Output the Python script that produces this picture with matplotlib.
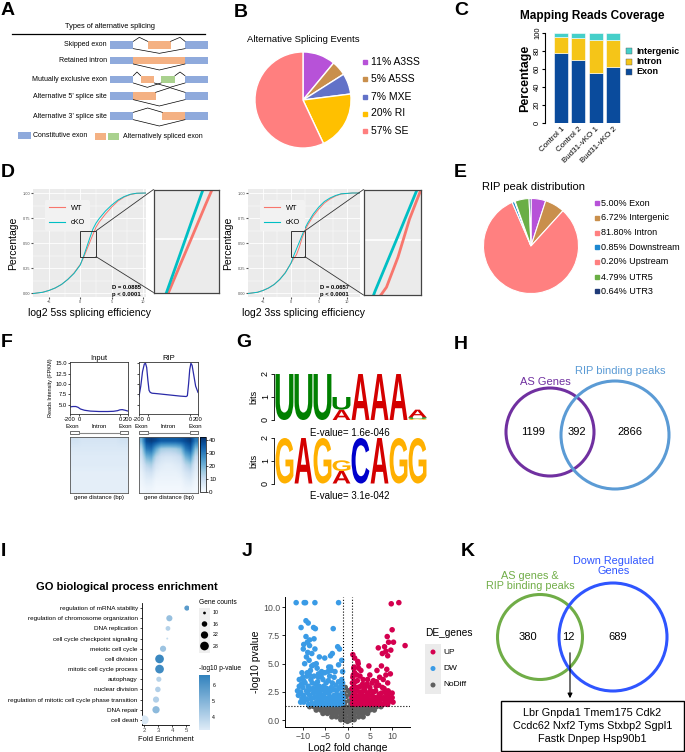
import numpy as np
import matplotlib
matplotlib.use('Agg')
import matplotlib.pyplot as plt
from matplotlib.patches import Rectangle, Circle, PathPatch, ConnectionPatch
from matplotlib.textpath import TextPath
from matplotlib.font_manager import FontProperties
from matplotlib.transforms import Affine2D
from matplotlib.colors import LinearSegmentedColormap
import matplotlib.cm as cm

plt.rcParams['font.family'] = ['Liberation Sans', 'DejaVu Sans']

# ---------------- data ----------------
as_types = ["Skipped exon", "Retained intron", "Mutually exclusive exon",
            "Alternative 5\u2019 splice site", "Alternative 3\u2019 splice site"]

ase_labels = ["A3SS", "A5SS", "MXE", "RI", "SE"]
ase_pct = [11, 5, 7, 20, 57]
ase_colors = ["#B752D8", "#C98F4C", "#6272C8", "#FFC000", "#FF7F7F"]

cov_samples = ["Control 1", "Control 2", "Bud31-vKO 1", "Bud31-vKO 2"]
cov_exon = [78, 70, 56, 62]
cov_intron = [18, 25, 36, 30]
cov_intergenic = [4, 5, 8, 8]

ecdf5_x = [-7.5, -6, -5, -4, -3, -2, -1, 0, 0.5, 1, 1.5, 2, 2.5, 3, 4, 5, 6, 7, 8, 9, 10.5]
ecdf5_wt = [0.0, 0.012, 0.03, 0.055, 0.09, 0.14, 0.205, 0.29, 0.355, 0.432, 0.508, 0.585, 0.66, 0.71, 0.79, 0.86, 0.92, 0.96, 0.985, 0.997, 1.0]
ecdf5_cko = [0.0, 0.012, 0.03, 0.055, 0.09, 0.14, 0.2, 0.285, 0.367, 0.458, 0.55, 0.64, 0.70, 0.745, 0.82, 0.88, 0.93, 0.965, 0.988, 0.998, 1.0]
ecdf3_x = [-7.7, -6, -5, -4, -3, -2, -1, 0, 0.5, 1, 1.5, 2, 2.5, 3, 4, 5, 6, 7, 8, 9, 11, 12.4]
ecdf3_wt = [0.0, 0.012, 0.03, 0.055, 0.09, 0.14, 0.21, 0.30, 0.347, 0.386, 0.459, 0.551, 0.623, 0.68, 0.77, 0.84, 0.90, 0.94, 0.97, 0.99, 1.0, 1.0]
ecdf3_cko = [0.0, 0.012, 0.03, 0.055, 0.09, 0.14, 0.205, 0.30, 0.376, 0.443, 0.51, 0.578, 0.646, 0.70, 0.79, 0.86, 0.915, 0.95, 0.975, 0.992, 1.0, 1.0]
ks_text = ["D = 0.0885\np < 0.0001", "D = 0.0657\np < 0.0001"]

rip_labels = ["Exon", "Intergenic", "Intron", "Downstream", "Upstream", "UTR5", "UTR3"]
rip_pct = [5.00, 6.72, 81.80, 0.85, 0.20, 4.79, 0.64]
rip_colors = ["#B752D8", "#C98F4C", "#FF8080", "#1E88D0", "#FF8080", "#6AAE45", "#1F3A78"]

prof_pos_input = [0, 5, 10, 14, 18, 25, 35, 50, 65, 75, 82, 86, 90, 95, 100]
prof_input = [4.5, 4.6, 4.6, 4.4, 4.0, 3.7, 3.5, 3.4, 3.4, 3.45, 3.6, 3.8, 3.85, 3.7, 3.5]
prof_pos_rip = [0, 3, 6, 9, 11, 13, 15, 17, 19, 22, 30, 50, 70, 80, 82, 84, 86, 88, 90, 93, 96, 100]
prof_rip = [7.0, 9.5, 13.0, 14.8, 15.0, 14.0, 11.0, 8.5, 8.0, 7.8, 7.7, 7.4, 7.1, 7.0, 7.2, 10.0, 13.5, 15.0, 14.5, 12.0, 9.5, 8.0]
prof_ticks = [0, 15.6, 86.7, 100]
prof_ticklabels = ["-200", "0", "0", "200"]
heat_input = [
    [8, 8, 7, 7, 7, 7, 7, 7, 7, 7, 8, 8],
    [6, 6, 6, 6, 6, 6, 6, 6, 6, 6, 6, 6],
    [5, 5, 5, 5, 5, 5, 5, 5, 5, 5, 5, 5],
    [5, 5, 5, 5, 5, 5, 5, 5, 5, 5, 5, 5],
    [4, 4, 4, 4, 4, 4, 4, 4, 4, 4, 4, 4],
    [4, 4, 4, 4, 4, 4, 4, 4, 4, 4, 4, 4],
    [4, 4, 4, 4, 4, 4, 4, 4, 4, 4, 4, 4],
]
heat_rip = [
    [20, 38, 40, 38, 35, 35, 35, 35, 36, 38, 40, 30],
    [12, 30, 32, 22, 15, 14, 14, 15, 18, 30, 34, 18],
    [8, 20, 22, 12, 8, 7, 7, 8, 10, 20, 24, 10],
    [5, 12, 14, 7, 5, 4, 4, 5, 6, 12, 15, 6],
    [3, 7, 8, 4, 3, 3, 3, 3, 4, 7, 9, 4],
    [2, 4, 4, 2, 2, 2, 2, 2, 2, 4, 5, 2],
    [1, 2, 2, 1, 1, 1, 1, 1, 1, 2, 2, 1],
]

motif1 = [[("U", 2.0)], [("U", 2.0)], [("U", 2.0)], [("A", 0.45), ("U", 0.55)],
          [("A", 2.0)], [("A", 2.0)], [("A", 2.0)], [("G", 0.05), ("U", 0.07), ("A", 0.33)]]
motif2 = [[("G", 2.0)], [("A", 2.0)], [("G", 2.0)], [("A", 0.55), ("G", 0.47)],
          [("C", 2.0)], [("A", 2.0)], [("G", 2.0)], [("G", 2.0)]]
motif_evalues = ["E-value= 1.6e-046", "E-value= 3.1e-042"]
base_colors = {"A": "#D40000", "U": "#008000", "C": "#0000CC", "G": "#FFB000"}

venn_h_counts = [1199, 392, 2866]
venn_h_labels = ["AS Genes", "RIP binding peaks"]

go_terms = ["regulation of mRNA stability", "regulation of chromosome organization",
            "DNA replication", "cell cycle checkpoint signaling", "meiotic cell cycle",
            "cell division", "mitotic cell cycle process", "autophagy", "nuclear division",
            "regulation of mitotic cell cycle phase transition", "DNA repair", "cell death"]
go_fold = [5.05, 3.8, 3.7, 3.65, 3.35, 3.1, 3.1, 3.05, 2.98, 2.85, 2.85, 2.0]
go_counts = [15, 18, 14, 9, 18, 28, 28, 15, 16, 18, 22, 30]
go_logp = [5.8, 4.6, 4.0, 3.7, 4.5, 6.4, 6.3, 4.0, 4.1, 4.1, 4.8, 3.3]
go_count_breaks = [10, 16, 22, 28]

vol_up = [(9.8, 10.3), (11.5, 10.4), (10.0, 8.0), (8.9, 7.4), (9.2, 6.9), (10.3, 6.9), (12.9, 6.6),
          (6.9, 6.4), (8.3, 6.5), (8.6, 6.1), (9.7, 6.2), (7.8, 5.9), (9.0, 5.7), (1.2, 5.8),
          (1.6, 5.5), (2.3, 5.2), (4.8, 4.8), (1.5, 4.7), (2.5, 4.6), (7.6, 4.8), (8.8, 4.5),
          (9.6, 4.1), (6.6, 4.4), (5.0, 4.0),
          (1.1, 1.5), (1.3, 2.2), (1.5, 3.0), (1.8, 1.7), (2.0, 2.6), (2.2, 3.5), (2.4, 1.5),
          (2.6, 2.1), (2.9, 3.0), (3.1, 1.7), (3.3, 2.5), (3.6, 1.5), (3.8, 2.1), (4.0, 3.0),
          (4.3, 1.6), (4.5, 2.4), (4.8, 1.8), (5.0, 2.9), (5.3, 1.5), (5.5, 2.2), (5.8, 3.5),
          (6.0, 1.7), (6.3, 2.6), (6.5, 1.5), (6.8, 2.0), (7.0, 3.1), (7.3, 1.6), (7.6, 2.4),
          (7.9, 1.9), (8.2, 2.8), (8.5, 1.6), (8.8, 2.3), (9.0, 3.3), (9.3, 2.0), (9.6, 1.7),
          (10.0, 2.4), (10.2, 1.6), (1.2, 3.8), (1.6, 4.2), (2.1, 4.0), (2.8, 3.9), (3.5, 3.6),
          (4.5, 3.6), (5.5, 3.3), (6.5, 3.4), (7.2, 3.8), (8.0, 3.6), (8.6, 4.0), (1.2, 1.4),
          (2.0, 1.4), (3.0, 1.4), (4.0, 1.4), (5.0, 1.4), (6.0, 1.4), (7.0, 1.4), (8.0, 1.4),
          (9.0, 1.4), (10.0, 2.0), (1.0, 2.8), (1.4, 4.6), (3.0, 4.4), (2.4, 5.0), (3.7, 2.8),
          (1.2, 1.9), (1.4, 2.6), (1.7, 3.4), (1.9, 2.2), (2.1, 1.8), (2.3, 2.9), (2.7, 1.7),
          (2.8, 2.5), (3.2, 2.1), (3.4, 3.2), (3.7, 1.8), (3.9, 2.6), (4.2, 2.0), (4.4, 3.2),
          (4.7, 2.2), (5.1, 1.8), (5.2, 2.6), (5.6, 1.8), (5.9, 2.5), (6.2, 2.0), (6.4, 3.0),
          (6.7, 1.8), (7.1, 2.3), (7.4, 2.0), (7.8, 2.9), (8.1, 2.0), (8.4, 2.5), (8.7, 1.9),
          (9.1, 2.6), (9.4, 2.4), (9.8, 1.9), (1.0, 2.0), (1.1, 3.3), (1.3, 4.0)]
vol_dw = [(-11.5, 10.4), (-9.7, 10.4), (-9.4, 10.4), (-7.3, 10.4), (-2.0, 10.4),
          (-9.3, 8.8), (-8.8, 8.6), (-10.4, 8.2), (-7.6, 8.2), (-7.2, 8.1), (-3.2, 8.1),
          (-9.3, 7.4), (-8.5, 7.1), (-7.5, 7.2), (-9.0, 6.9), (-9.8, 6.7), (-8.5, 6.6),
          (-9.9, 6.3), (-8.9, 6.0), (-8.0, 5.9), (-7.3, 6.3), (-2.2, 6.5), (-1.8, 6.3),
          (-9.2, 5.6), (-8.6, 5.3), (-6.3, 5.6), (-5.1, 5.5), (-3.8, 5.7), (-3.4, 5.9),
          (-4.2, 4.7), (-7.6, 4.9), (-8.0, 4.8), (-1.3, 5.3), (-2.0, 4.9), (-10.2, 4.2),
          (-9.0, 4.2), (-6.5, 4.1), (-5.1, 4.2), (-4.4, 4.3), (-3.6, 4.4), (-1.1, 4.3),
          (-10.5, 2.5), (-10.0, 2.9), (-9.5, 3.3), (-9.2, 2.6), (-8.8, 3.0), (-8.5, 2.2),
          (-8.2, 3.6), (-7.8, 2.8), (-7.5, 2.0), (-7.2, 3.2), (-6.9, 2.5), (-6.6, 1.9),
          (-6.3, 3.0), (-6.0, 2.3), (-5.7, 1.7), (-5.4, 2.7), (-5.1, 2.0), (-4.8, 3.3),
          (-4.5, 1.6), (-4.2, 2.4), (-3.9, 1.9), (-3.6, 2.9), (-3.3, 1.5), (-3.0, 2.2),
          (-2.7, 1.7), (-2.4, 2.6), (-2.1, 1.5), (-1.8, 2.0), (-1.5, 1.6), (-1.2, 2.4),
          (-1.1, 1.5), (-9.8, 1.6), (-9.0, 1.8), (-8.0, 1.5), (-7.0, 1.6), (-6.0, 1.5),
          (-5.0, 1.5), (-4.0, 1.5), (-2.5, 1.4), (-1.5, 3.0), (-1.3, 3.6), (-2.0, 3.4),
          (-3.0, 3.8), (-4.0, 3.9), (-5.5, 3.6), (-6.5, 3.8), (-7.5, 3.9), (-8.5, 4.0),
          (-9.8, 3.5), (-10.8, 3.0), (-11.0, 2.2), (-10.2, 1.9), (-8.7, 1.4), (-7.3, 1.4),
          (-6.3, 1.4), (-5.3, 1.4), (-4.6, 1.4), (-3.6, 1.4), (-2.9, 1.4), (-1.9, 1.4),
          (-1.2, 1.9), (-5.8, 4.3), (-3.8, 4.7), (-2.8, 4.3), (-6.8, 4.6), (-8.3, 4.4),
          (-10.0, 3.8), (-9.6, 5.0), (-7.0, 5.0),
          (-10.8, 3.6), (-10.3, 3.2), (-9.9, 2.2), (-9.4, 1.9), (-9.1, 3.9), (-8.9, 2.4),
          (-8.4, 2.7), (-8.1, 1.9), (-7.9, 3.3), (-7.6, 2.4), (-7.1, 2.8), (-6.8, 2.1),
          (-6.7, 3.4), (-6.2, 1.8), (-6.1, 2.7), (-5.9, 3.9), (-5.6, 2.1), (-5.3, 3.0),
          (-5.0, 2.4), (-4.7, 1.9), (-4.6, 2.8), (-4.3, 3.5), (-4.0, 2.1), (-3.8, 2.6),
          (-3.5, 1.8), (-3.4, 3.3), (-3.1, 2.7), (-2.9, 1.9), (-2.6, 3.1), (-2.3, 2.2),
          (-2.2, 1.8), (-1.9, 2.8), (-1.6, 2.2), (-1.4, 1.7), (-1.2, 2.9), (-1.1, 3.3),
          (-1.0, 2.0), (-10.5, 1.6), (-11.2, 2.6)]
vol_nd = [(-8.5, 1.2), (-7.5, 1.2), (-6.5, 1.2), (-5.5, 1.2), (-4.5, 1.2), (-3.5, 1.2), (-2.5, 1.2),
          (-1.5, 1.2), (-0.5, 1.2), (0.5, 1.2), (1.5, 1.2), (2.5, 1.2), (3.5, 1.2), (4.5, 1.2),
          (5.5, 1.2), (6.5, 1.2), (7.5, 1.2),
          (-7, 0.9), (-6, 0.9), (-5, 0.9), (-4, 0.9), (-3, 0.9), (-2, 0.9), (-1, 0.9), (0, 0.9),
          (1, 0.9), (2, 0.9), (3, 0.9), (4, 0.9), (5, 0.9), (6, 0.9),
          (-5.5, 0.6), (-4.5, 0.6), (-3.5, 0.6), (-2.5, 0.6), (-1.5, 0.6), (-0.5, 0.6), (0.5, 0.6),
          (1.5, 0.6), (2.5, 0.6), (3.5, 0.6), (4.5, 0.6),
          (-3.5, 0.3), (-2.5, 0.3), (-1.5, 0.3), (-0.5, 0.3), (0.5, 0.3), (1.5, 0.3), (2.5, 0.3), (3.5, 0.3),
          (-1.5, 0.05), (-0.5, 0.0), (0.5, 0.0), (1.5, 0.05), (0, -0.1),
          (-0.6, 1.6), (0.4, 1.7), (-0.3, 2.1), (0.6, 2.3), (-0.5, 2.9), (0.2, 2.6), (-0.8, 2.4), (0.8, 1.5)]
vol_groups = ["UP", "DW", "NoDiff"]
vol_colors = ["#D4004F", "#3A9BE6", "#5F5F5F"]

venn_k_counts = [380, 12, 689]
venn_k_labels = ["AS genes &\nRIP binding peaks", "Down Regulated\nGenes"]
k_genes = ["Lbr Gnpda1 Tmem175 Cdk2", "Ccdc62 Nxf2 Tyms Stxbp2 Sgpl1", "Fastk Dnpep Hsp90b1"]

# ---------------- figure ----------------
W, H = 685, 752
fig = plt.figure(figsize=(W / 100, H / 100), dpi=100)


def pax(x0, y0, x1, y1, **kw):
    return fig.add_axes([x0 / W, 1 - y1 / H, (x1 - x0) / W, (y1 - y0) / H], **kw)


ov = fig.add_axes([0, 0, 1, 1], zorder=20)
ov.set_xlim(0, W)
ov.set_ylim(H, 0)
ov.axis('off')
ov.patch.set_visible(False)

# panel letters
for lab, x, y in [("A", 1, 2), ("B", 234, 4), ("C", 454, 2), ("D", 1, 164), ("E", 454, 164),
                  ("F", 1, 334), ("G", 236, 334), ("H", 454, 336), ("I", 1, 543), ("J", 242, 543),
                  ("K", 461, 543)]:
    ov.text(x, y, lab, fontsize=14, fontweight='bold', va='top', ha='left')

# ---------------- A ----------------
c_const, c_alt, c_alt2 = "#8FAADC", "#F4B183", "#A9D18E"
ov.text(110, 27, "Types of alternative splicing", fontsize=5.3, ha='center', va='center')
ov.plot([12, 205], [34.3, 34.3], color='black', lw=0.9)
row_y = [135, 181, 238, 288, 348]
alt_boxes = [[(443, 512, c_alt)], [(400, 555, c_alt)], [(422, 463, c_alt), (483, 525, c_alt2)],
             [(400, 467, c_alt)], [(487, 555, c_alt)]]
connectors = [
    [[(400, 124), (418, 112), (443, 124)], [(512, 124), (540, 112), (555, 124)], [(400, 146), (478, 160), (555, 146)]],
    [[(400, 192), (478, 210), (555, 192)]],
    [[(400, 227), (411, 216), (422, 227)], [(525, 227), (540, 216), (555, 227)],
     [(400, 249), (442, 262), (483, 249)], [(463, 249), (510, 262), (555, 249)]],
    [[(467, 277), (510, 263), (555, 277)], [(400, 299), (478, 318), (555, 299)]],
    [[(400, 337), (443, 324), (487, 337)], [(400, 359), (478, 378), (555, 359)]],
]
for i, name in enumerate(as_types):
    yc = row_y[i] / 3
    ov.text(107, yc, name, fontsize=5.0, ha='right', va='center')
    for (xa, xb) in [(330, 400), (555, 623)]:
        ov.add_patch(Rectangle((xa / 3, yc - 3.6), (xb - xa) / 3, 7.2, fc=c_const, ec='none'))
    for (xa, xb, col) in alt_boxes[i]:
        ov.add_patch(Rectangle((xa / 3, yc - 3.6), (xb - xa) / 3, 7.2, fc=col, ec='none'))
    for line in connectors[i]:
        ov.plot([p[0] / 3 for p in line], [p[1] / 3 for p in line], color='black', lw=0.5)
ov.add_patch(Rectangle((18.3, 131.5), 12.4, 7, fc=c_const, ec='none'))
ov.text(33.5, 135.5, "Constitutive exon", fontsize=5.0, va='center')
ov.add_patch(Rectangle((95, 133), 11, 7, fc=c_alt, ec='none'))
ov.add_patch(Rectangle((108.3, 133), 11, 7, fc=c_alt2, ec='none'))
ov.text(123.5, 137, "Alternatively spliced exon", fontsize=5.0, va='center')

# ---------------- B ----------------
axB = pax(303 - 49, 100 - 49, 303 + 49, 100 + 49)
axB.pie(ase_pct, colors=ase_colors, startangle=90, counterclock=False,
        wedgeprops=dict(edgecolor='white', linewidth=1.0))
axB.set_xlim(-1.02, 1.02)
axB.set_ylim(-1.02, 1.02)
ov.text(303, 40, "Alternative Splicing Events", fontsize=6.8, ha='center', va='center')
for i, (lab, p) in enumerate(zip(ase_labels, ase_pct)):
    y = [62, 79, 97, 113.5, 131][i]
    ov.plot(365.5, y, 's', color=ase_colors[i], ms=2.8)
    ov.text(371, y, f"{p}% {lab}", fontsize=7.5, va='center')

# ---------------- C ----------------
axC = pax(548, 33, 621, 123)
xs = np.arange(len(cov_samples))
bot = np.zeros(len(xs))
for vals, col, lab in [(cov_exon, "#0A4B9C", "Exon"), (cov_intron, "#F5C518", "Intron"),
                       (cov_intergenic, "#45CFC9", "Intergenic")]:
    axC.bar(xs, vals, bottom=bot, width=0.8, color=col, edgecolor='white', linewidth=0.4, label=lab)
    bot += np.array(vals)
axC.set_xlim(-0.75, 3.45)
axC.set_ylim(0, 100)
for s in ['top', 'right', 'bottom']:
    axC.spines[s].set_visible(False)
axC.spines['left'].set_bounds(0, 100)
axC.spines['left'].set_position(('outward', 2))
axC.set_yticks([0, 20, 40, 60, 80, 100])
axC.set_yticklabels(["0", "20", "40", "60", "80", "100"], rotation=90, va='center', fontsize=5.5)
axC.tick_params(axis='y', length=2, pad=1)
axC.set_xticks(xs)
axC.set_xticklabels(cov_samples, rotation=45, ha='right', rotation_mode='anchor', fontsize=5.8)
axC.tick_params(axis='x', length=0, pad=2)
axC.set_ylabel("Percentage", fontsize=9, fontweight='bold', labelpad=2)
ov.text(592, 16, "Mapping Reads Coverage", fontsize=8.5, fontweight='bold', ha='center', va='center')
for lab, col, y in [("Intergenic", "#45CFC9", 51), ("Intron", "#F5C518", 61.5), ("Exon", "#0A4B9C", 72)]:
    ov.plot(629, y, 's', color=col, ms=4, mec='#555555', mew=0.3)
    ov.text(636, y, lab, fontsize=6.5, fontweight='bold', va='center')

# ---------------- D ----------------
WT_C, KO_C = "#F8766D", "#00BFC4"


def gg(ax):
    ax.set_facecolor('#EBEBEB')
    for s in ax.spines.values():
        s.set_visible(False)
    ax.grid(True, which='major', color='white', lw=0.6)
    ax.grid(True, which='minor', color='white', lw=0.3)
    ax.set_axisbelow(True)


def ecdf_panel(box, inset_box, xv, wt, ko, xlim, xlabel, ks, ks_x):
    ax = pax(*box)
    gg(ax)
    ax.plot(xv, wt, color=WT_C, lw=0.7, label="WT")
    ax.plot(xv, ko, color=KO_C, lw=0.7, label="cKO")
    ax.set_xlim(*xlim)
    ax.set_ylim(-0.035, 1.04)
    ax.set_xticks([-5, 0, 5, 10])
    ax.set_xticks([-2.5, 2.5, 7.5], minor=True)
    ax.set_yticks([0, 0.25, 0.5, 0.75, 1.0])
    ax.set_yticklabels(["0.00", "0.25", "0.50", "0.75", "1.00"])
    ax.set_yticks([0.125, 0.375, 0.625, 0.875], minor=True)
    ax.tick_params(which='major', labelsize=2.8, length=1.2, color='#555555', labelcolor='#4D4D4D', pad=1)
    ax.tick_params(which='minor', length=0)
    ax.set_xlabel(xlabel, fontsize=7.5, labelpad=3)
    ax.set_ylabel("Percentage", fontsize=7.5, labelpad=3)
    leg = ax.legend(loc='upper left', bbox_to_anchor=(0.07, 0.93), fontsize=5.3, handlelength=2.2,
                    frameon=True, facecolor='#F2F2F2', edgecolor='none', framealpha=1,
                    borderpad=0.6, labelspacing=1.0)
    for l in leg.get_lines():
        l.set_linewidth(0.8)
    ax.text(ks_x, 0.08, ks, fontsize=4.2, fontweight='bold', va='top', ha='left',
            transform=ax.transData, linespacing=1.4)
    x0, x1, y0, y1 = 0.0, 2.5, 0.367, 0.623
    ax.add_patch(Rectangle((x0, y0), x1 - x0, y1 - y0, fill=False, ec='#333333', lw=0.7, zorder=5))
    ins = pax(*inset_box)
    ins.set_facecolor('#EBEBEB')
    ins.axhline(0.5, color='white', lw=1.2)
    ins.plot(xv, wt, color=WT_C, lw=2.0)
    ins.plot(xv, ko, color=KO_C, lw=2.0)
    ins.set_xlim(x0, x1)
    ins.set_ylim(y0, y1)
    ins.set_xticks([])
    ins.set_yticks([])
    for s in ins.spines.values():
        s.set_color('#444444')
        s.set_linewidth(0.9)
    for (xa, ya, xb, yb) in [(x1, y1, 0, 1), (x1, y0, 0, 0)]:
        cp = ConnectionPatch(xyA=(xa, ya), coordsA=ax.transData, xyB=(xb, yb), coordsB=ins.transAxes,
                             color='#333333', lw=0.6)
        fig.add_artist(cp)
    return ax


ecdf_panel((33, 189, 146, 297), (153.5, 189.5, 218.5, 292.5), ecdf5_x, ecdf5_wt, ecdf5_cko,
           (-7.55, 10.48), "log2 5ss splicing efficiency", ks_text[0], 5.0)
ecdf_panel((248, 189, 360, 297), (363.5, 189.5, 421, 295), ecdf3_x, ecdf3_wt, ecdf3_cko,
           (-7.7, 12.4), "log2 3ss splicing efficiency", ks_text[1], 5.3)

# ---------------- E ----------------
axE = pax(531 - 48, 246 - 48, 531 + 48, 246 + 48)
axE.pie(rip_pct, colors=rip_colors, startangle=90, counterclock=False,
        wedgeprops=dict(edgecolor='white', linewidth=0.8))
axE.set_xlim(-1.01, 1.01)
axE.set_ylim(-1.01, 1.01)
ov.text(534, 187.5, "RIP peak distribution", fontsize=8, ha='center', va='center')
for i, (lab, p) in enumerate(zip(rip_labels, rip_pct)):
    y = [203, 218, 232.5, 247, 262, 277, 291][i]
    ov.plot(597.5, y, 's', color=rip_colors[i], ms=2.8)
    ov.text(601, y, f"{p:.2f}% {lab}", fontsize=6.5, va='center')

# ---------------- F ----------------
for j, (name, pos, vals, heat, (xa, xb)) in enumerate([
        ("Input", prof_pos_input, prof_input, heat_input, (70, 128)),
        ("RIP", prof_pos_rip, prof_rip, heat_rip, (139, 198))]):
    a = pax(xa, 362, xb, 414)
    a.plot(pos, vals, color='#2A2AA8', lw=0.9)
    a.set_xlim(0, 100)
    a.set_ylim(2.8, 15.3)
    a.set_xticks(prof_ticks)
    a.set_xticklabels(prof_ticklabels)
    a.set_yticks([5, 7.5, 10, 12.5, 15])
    if j == 0:
        a.set_yticklabels(["5.0", "7.5", "10.0", "12.5", "15.0"])
        a.set_ylabel("Reads Intensity (FPKM)", fontsize=4, labelpad=2)
    else:
        a.set_yticklabels([])
        a.tick_params(axis='y', length=0)
    a.tick_params(labelsize=4.2, length=1.5, pad=0.8, width=0.5)
    for s in a.spines.values():
        s.set_linewidth(0.6)
        s.set_color('#333333')
    a.set_title(name, fontsize=5.5, pad=1.5)
    w = xb - xa
    ov.text(xa + 0.04 * w, 426, "Exon", fontsize=4.3, ha='center', va='center')
    ov.text(xa + 0.5 * w, 426, "Intron", fontsize=4.3, ha='center', va='center')
    ov.text(xb - 0.04 * w, 426, "Exon", fontsize=4.3, ha='center', va='center')
    ov.plot([xa + 0.16 * w, xb - 0.14 * w], [432.5, 432.5], color='#888888', lw=0.8)
    ov.add_patch(Rectangle((xa, 430.5), 0.16 * w, 3.5, fill=False, ec='#333333', lw=0.5))
    ov.add_patch(Rectangle((xb - 0.14 * w, 430.5), 0.14 * w, 3.5, fill=False, ec='#333333', lw=0.5))
    h = pax(xa, 437, xb, 493)
    h.imshow(np.array(heat), aspect='auto', cmap='Blues', vmin=0, vmax=42, interpolation='bilinear',
             extent=(0, 1, 0, 1))
    h.set_xticks([])
    h.set_yticks([])
    for s in h.spines.values():
        s.set_linewidth(0.6)
        s.set_color('#555555')
    ov.text((xa + xb) / 2, 497, "gene distance (bp)", fontsize=4.3, ha='center', va='center')
cb_ax = pax(200, 437, 205.5, 492)
cb = fig.colorbar(cm.ScalarMappable(cmap='Blues', norm=plt.Normalize(0, 42)), cax=cb_ax)
cb.set_ticks([0, 10, 20, 30, 40])
cb.ax.tick_params(labelsize=4.5, length=1.5, pad=1, width=0.5)
cb.outline.set_linewidth(0.5)

# ---------------- G ----------------
logo_fp = FontProperties(family='Liberation Sans', weight='bold')


def draw_letter(ax, letter, x, y, w, hgt, color):
    tp = TextPath((0, 0), letter, size=1, prop=logo_fp)
    bb = tp.get_extents()
    tr = Affine2D().translate(-bb.x0, -bb.y0).scale(w / bb.width, hgt / bb.height).translate(x, y)
    ax.add_patch(PathPatch(tr.transform_path(tp), fc=color, ec='none'))


for k, (motif, (ya, yb)) in enumerate([(motif1, (374, 420)), (motif2, (438, 483.5))]):
    a = pax(274, ya, 428, yb)
    for i, stack in enumerate(motif):
        base = 0.0
        for letter, hgt in stack:
            draw_letter(a, letter, i + 1 - 0.47, base, 0.94, hgt, base_colors[letter])
            base += hgt
    a.set_xlim(0.45, 8.55)
    a.set_ylim(0, 2)
    for s in ['top', 'right', 'bottom']:
        a.spines[s].set_visible(False)
    a.spines['left'].set_linewidth(0.6)
    a.set_xticks([])
    a.set_yticks([0, 1, 2])
    a.set_yticklabels(["0", "1", "2"], rotation=90, va='center')
    a.tick_params(axis='y', labelsize=6.5, length=2, pad=1, width=0.6)
    a.set_ylabel("bits", fontsize=6.5, labelpad=2)
ov.text(350, 433, motif_evalues[0], fontsize=7, ha='center', va='center')
ov.text(350, 496, motif_evalues[1], fontsize=7, ha='center', va='center')

# ---------------- H ----------------
ov.add_patch(Circle((550, 432), 44, fill=False, ec='#7030A0', lw=2.2))
ov.add_patch(Circle((615, 435), 54, fill=False, ec='#5B9BD5', lw=2.2))
ov.text(545, 382, venn_h_labels[0], color='#7030A0', fontsize=8, ha='center', va='center')
ov.text(620, 371, venn_h_labels[1], color='#5B9BD5', fontsize=8, ha='center', va='center')
for val, x in zip(venn_h_counts, [533, 577, 630]):
    ov.text(x, 432, str(val), fontsize=8, ha='center', va='center')

# ---------------- I ----------------
axI = pax(142, 603, 189, 725)
go_cmap = LinearSegmentedColormap.from_list('go', ['#DEEBF7', '#3182BD'])
go_norm = plt.Normalize(3.2, 6.6)
ypos = np.arange(len(go_terms))[::-1]


def count_size(c):
    return 4 + (np.array(c, dtype=float) - 10) * 1.95


axI.scatter(go_fold, ypos, s=count_size(go_counts), c=go_logp, cmap=go_cmap, norm=go_norm,
            edgecolors='none', zorder=3)
axI.set_xlim(1.85, 5.2)
axI.set_ylim(-0.5, 11.5)
axI.set_yticks(ypos)
axI.set_yticklabels(go_terms, fontsize=4.6)
axI.set_xticks([2, 3, 4, 5])
axI.tick_params(axis='x', labelsize=4.3, length=1.5, pad=1, width=0.5, labelcolor='#4D4D4D')
axI.tick_params(axis='y', length=1.5, pad=1.5, width=0.5)
for s in ['top', 'right']:
    axI.spines[s].set_visible(False)
for s in ['left', 'bottom']:
    axI.spines[s].set_linewidth(0.6)
axI.set_xlabel("Fold Enrichment", fontsize=5.5, labelpad=1.5)
ov.text(127, 587, "GO biological process enrichment", fontsize=8, fontweight='bold', ha='center', va='center')
ov.text(199, 603, "Gene counts", fontsize=4.8, ha='left', va='center')
ov.add_patch(Rectangle((199, 607.5), 11, 45, fc='#EFEFEF', ec='none'))
for c, y in zip(go_count_breaks, [613, 624, 635, 646]):
    ov.scatter([204.5], [y], s=count_size([c]), color='black', edgecolors='none')
    ov.text(212.5, y, str(c), fontsize=3.8, va='center')
ov.text(199, 669, "-log10 p-value", fontsize=4.8, ha='left', va='center')
cbI_ax = pax(199, 675, 209.5, 730)
cbI = fig.colorbar(cm.ScalarMappable(cmap=go_cmap, norm=go_norm), cax=cbI_ax)
cbI.set_ticks([4, 5, 6])
cbI.ax.tick_params(labelsize=3.8, length=0, pad=2)
cbI.outline.set_visible(False)

# ---------------- J ----------------
axJ = pax(285, 597, 410, 727)
for pts, col in zip([vol_nd, vol_dw, vol_up], [vol_colors[2], vol_colors[1], vol_colors[0]]):
    axJ.scatter([p[0] for p in pts], [p[1] for p in pts], s=16, color=col, edgecolors='none', zorder=3)
axJ.axhline(1.3, color='black', ls=':', lw=0.8, zorder=4)
axJ.axvline(-1, color='black', ls=':', lw=0.8, zorder=4)
axJ.axvline(1, color='black', ls=':', lw=0.8, zorder=4)
axJ.set_xlim(-14, 14)
axJ.set_ylim(-0.6, 10.9)
axJ.set_xticks([-10, -5, 0, 5, 10])
axJ.set_yticks([0, 2.5, 5, 7.5, 10])
axJ.set_yticklabels(["0.0", "2.5", "5.0", "7.5", "10.0"])
axJ.tick_params(labelsize=6.3, length=2, width=0.6, pad=1.5, labelcolor='#4D4D4D')
for s in ['top', 'right']:
    axJ.spines[s].set_visible(False)
for s in ['left', 'bottom']:
    axJ.spines[s].set_linewidth(0.7)
axJ.set_xlabel("Log2 fold change", fontsize=7.5, labelpad=1.5)
axJ.set_ylabel("-log10 pvalue", fontsize=7.5, labelpad=1.5)
ov.text(425, 633, "DE_genes", fontsize=7.3, ha='left', va='center')
ov.add_patch(Rectangle((425.5, 643.5), 15.5, 50, fc='#EBEBEB', ec='none'))
for g, col, y in zip(vol_groups, vol_colors, [652, 668.5, 685]):
    ov.scatter([433], [y], s=13, color=col, edgecolors='none')
    ov.text(443, y, g, fontsize=6, va='center')

# ---------------- K ----------------
ov.add_patch(Circle((540, 637), 42.5, fill=False, ec='#70AD47', lw=2.2))
ov.add_patch(Circle((613, 637), 54, fill=False, ec='#2F55FF', lw=2.2))
ov.text(530, 581, venn_k_labels[0], color='#70AD47', fontsize=7.8, ha='center', va='center', linespacing=1.05)
ov.text(614, 566, venn_k_labels[1], color='#2F55FF', fontsize=7.8, ha='center', va='center', linespacing=1.05)
for val, x in zip(venn_k_counts, [528, 568, 618]):
    ov.text(x, 637, str(val), fontsize=8, ha='center', va='center')
ov.annotate("", xy=(570, 701), xytext=(570, 650),
            arrowprops=dict(arrowstyle='-|>', color='black', lw=0.8, mutation_scale=7))
ov.add_patch(Rectangle((501, 701), 183, 50, fill=False, ec='black', lw=1))
for line, y in zip(k_genes, [713, 726, 739]):
    ov.text(592.5, y, line, fontsize=7.8, ha='center', va='center')

fig.savefig("out.png", dpi=100)
